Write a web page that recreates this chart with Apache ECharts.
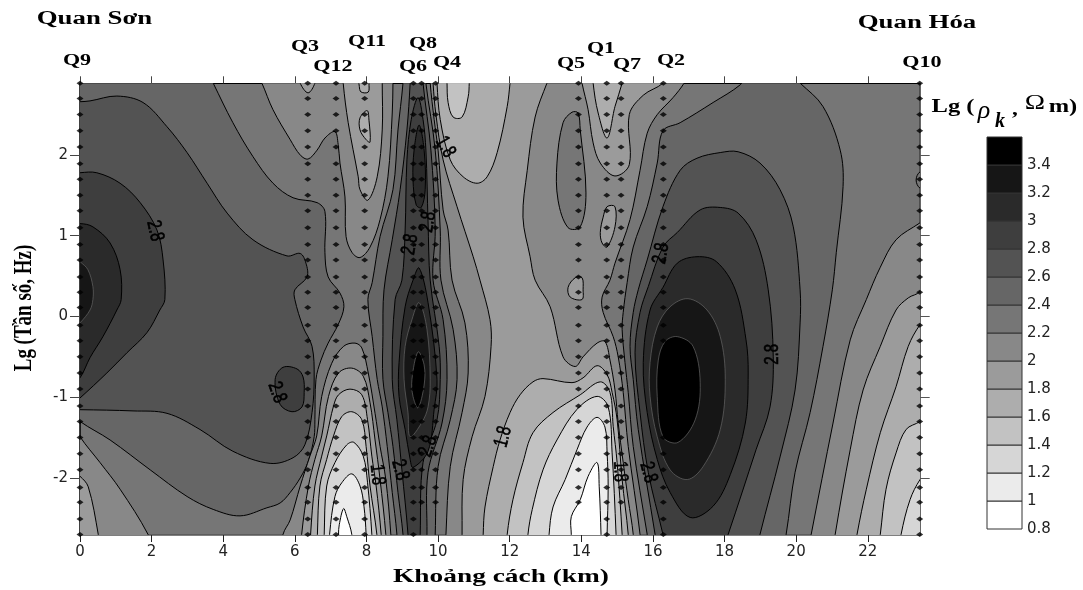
<!DOCTYPE html>
<html><head><meta charset="utf-8">
<style>html,body{margin:0;padding:0;background:#fff}#c{width:1083px;height:590px}</style>
<script src="https://cdn.jsdelivr.net/npm/echarts@6/dist/echarts.min.js"></script>
</head><body><div id="c"></div>
<script>
// colour scale: lower bound of each band and its grey
const bandLow  = [0.8,1,1.2,1.4,1.6,1.8,2,2.2,2.4,2.6,2.8,3,3.2,3.4];
const bandGrey = ['#ffffff','#ebebeb','#d6d6d6','#c2c2c2','#adadad','#9b9b9b','#888888','#767676','#666666','#535353','#3e3e3e','#2a2a2a','#161616','#000000'];
const colorbarTicks = [0.8,1,1.2,1.4,1.6,1.8,2,2.2,2.4,2.6,2.8,3,3.2,3.4];
const xTicks = [0,2,4,6,8,10,12,14,16,18,20,22];
const yTicks = [-2,-1,0,1,2];

// stations
const stationNames = ['Q9','Q3','Q12','Q11','Q6','Q8','Q4','Q5','Q1','Q7','Q2','Q10'];
const stationKm    = [0,6.36,7.15,7.95,9.31,9.54,9.93,13.92,14.71,15.11,16.29,23.45];
const stationLastLg= [-2.70,-2.70,-2.70,-2.70,-2.70,-2.30,-2.30,-2.30,-2.70,-2.30,-2.70,-2.70];
const soundingLg = [2.888,2.70,2.50,2.30,2.10,1.89,1.70,1.50,1.31,1.10,0.89,0.70,0.49,0.30,0.11,-0.11,-0.30,-0.50,-0.70,-0.90,-1.11,-1.30,-1.50,-1.70,-1.90,-2.12,-2.30,-2.51,-2.70];

// contour label readings
const labelKm   = [2.09,5.50,10.20,9.22,9.72,8.94,9.72,8.30,11.82,16.23,15.08,15.87,19.33];
const labelLg   = [1.06,-0.94,2.10,0.89,1.17,-1.90,-1.61,-1.96,-1.49,0.78,-1.92,-1.93,-0.47];
const labelText = ['2.8','2.8','1.8','2.8','2.8','2.8','2.8','1.8','1.8','2.8','1.8','2.8','2.8'];
const labelTurn = [-78,-70,-60,80,80,-75,70,-85,75,80,-88,-75,90];

// contours: [km, lg f]. High regions (value >= level)
const ge24Left = [[-0.28,3.05],[3.55,3.05],[3.72,2.89],[4.27,2.40],[4.83,1.98],[5.39,1.65],[5.95,1.47],[6.62,1.41],[6.84,1.30],[6.84,0.79],[6.93,0.49],[7.26,0.29],[7.37,0.12],[7.21,-0.10],[6.93,-0.33],[6.73,-0.54],[6.59,-0.78],[6.56,-1.28],[6.54,-1.49],[6.37,-1.80],[6.15,-2.00],[5.87,-2.18],[5.59,-2.31],[5.22,-2.37],[4.47,-2.47],[3.72,-2.39],[2.99,-2.23],[1.96,-1.90],[0.84,-1.53],[0,-1.30],[-0.5,-1.10]];
const ge26Left = [[-0.5,2.66],[0,2.66],[0.28,2.67],[1.03,2.73],[1.76,2.65],[2.43,2.35],[2.99,2.03],[3.55,1.65],[4.11,1.28],[4.83,0.95],[5.78,0.75],[6.15,0.78],[6.31,0.66],[6.34,0.49],[6.0,0.33],[6.0,0.21],[6.23,-0.13],[6.48,-0.37],[6.54,-0.75],[6.48,-1.19],[6.28,-1.59],[5.95,-1.75],[5.31,-1.82],[4.27,-1.67],[3.35,-1.40],[2.43,-1.20],[1.48,-1.17],[0,-1.155],[-0.5,-1.155]];
const ge28Left = [[-0.5,1.75],[0,1.78],[0.47,1.78],[1.12,1.65],[1.68,1.41],[2.15,1.07],[2.32,0.70],[2.37,0.21],[2.23,0.08],[1.87,-0.20],[1.31,-0.45],[0.75,-0.70],[0,-1.01],[-0.5,-1.2]];
const ge30Left = [[-0.5,1.13],[0,1.15],[0.36,1.11],[0.84,0.91],[1.12,0.58],[1.15,0.21],[1.03,0.08],[0.64,-0.25],[0.28,-0.51],[0,-0.76],[-0.5,-1.0]];
const ge32Left = [[-0.5,0.9],[0,0.68],[0.22,0.58],[0.36,0.37],[0.36,0.21],[0.28,0.08],[0,-0.08],[-0.5,-0.3]];
const ge28Blob = [[5.67,-0.63],[6.06,-0.65],[6.23,-0.75],[6.26,-0.94],[6.2,-1.12],[5.92,-1.18],[5.59,-1.09],[5.45,-0.78]];

const ge24Ridge = [[9.02,3.05],[9.02,2.89],[8.88,2.31],[8.74,1.57],[8.38,0.99],[8.16,0.42],[8.04,0.21],[8.16,-0.25],[8.30,-0.78],[8.44,-1.12],[8.58,-1.61],[8.72,-2.18],[8.85,-2.70],[8.85,-2.89],[9.92,-2.89],[9.92,-2.70],[10.0,-1.86],[10.34,-1.28],[10.53,-0.78],[10.42,-0.16],[10.08,0.45],[10.06,1.07],[9.92,2.06],[9.66,2.89],[9.66,3.05]];
const ge26Ridge = [[9.22,3.05],[9.22,2.89],[9.13,2.31],[8.94,1.57],[8.72,0.95],[8.49,0.33],[8.46,-0.25],[8.46,-0.78],[8.60,-1.19],[8.74,-1.61],[8.88,-2.18],[9.02,-2.70],[9.02,-2.89],[9.69,-2.89],[9.69,-2.70],[9.72,-1.93],[10.11,-1.32],[10.25,-0.78],[10.14,-0.04],[9.86,0.45],[9.92,1.07],[9.80,2.06],[9.58,2.89],[9.58,3.05]];
const ge28Ridge = [[9.44,2.71],[9.25,2.44],[9.13,1.94],[9.08,1.07],[8.99,0.45],[8.80,0.21],[8.72,-0.78],[8.85,-1.28],[8.99,-1.90],[9.16,-2.70],[9.16,-2.89],[9.50,-2.89],[9.50,-2.70],[9.58,-1.81],[9.97,-1.28],[10.06,-0.78],[10.03,-0.37],[9.78,0.45],[9.72,1.17],[9.66,2.06],[9.58,2.44]];
const ge30RidgeUp = [[9.47,2.37],[9.33,2.06],[9.30,1.69],[9.39,1.38],[9.53,1.35],[9.64,1.57],[9.61,2.06]];
const ge30RidgeLow = [[9.47,0.60],[9.30,0.45],[9.08,0.12],[8.91,-0.57],[8.91,-0.99],[9.08,-1.40],[9.22,-1.77],[9.30,-1.87],[9.72,-1.67],[9.89,-1.15],[9.97,-0.78],[9.72,0.17]];
const ge32Ridge = [[9.47,0.17],[9.27,-0.04],[9.08,-0.37],[9.05,-0.78],[9.16,-1.19],[9.22,-1.49],[9.55,-1.31],[9.72,-1.12],[9.78,-0.78],[9.69,-0.16]];
const ge34Ridge = [[9.44,-0.44],[9.27,-0.78],[9.30,-0.99],[9.44,-1.13],[9.61,-0.85],[9.61,-0.60]];

const ge24Right = [[18.77,3.05],[18.44,2.87],[17.68,2.65],[16.76,2.40],[16.28,2.30],[16.12,1.90],[15.84,1.36],[15.45,0.86],[15.28,0.42],[15.17,0.05],[15.14,-0.16],[15.22,-0.57],[15.31,-0.94],[15.45,-1.61],[15.84,-2.70],[15.92,-2.89],[19.61,-2.89],[19.72,-2.70],[19.97,-1.93],[20.39,-1.19],[20.75,-0.37],[21.01,0.33],[21.12,0.79],[21.31,1.61],[21.23,2.06],[20.75,2.60],[20.11,2.89],[19.69,3.05]];
const ge26Right = [[17.88,2.03],[17.23,1.96],[16.76,1.81],[16.28,1.36],[15.84,0.70],[15.59,0.33],[15.45,0.05],[15.36,-0.37],[15.45,-0.78],[15.59,-1.40],[16.06,-2.70],[16.12,-2.89],[18.91,-2.89],[18.99,-2.70],[19.55,-1.74],[19.97,-0.91],[20.11,-0.08],[20.11,0.33],[19.92,1.11],[19.55,1.57],[18.99,1.90],[18.38,2.04]];
const ge28Right = [[17.88,1.35],[17.32,1.32],[16.68,1.04],[16.28,0.86],[15.87,0.37],[15.64,0.05],[15.50,-0.45],[15.64,-1.19],[15.87,-1.93],[16.28,-2.70],[16.37,-2.89],[17.93,-2.89],[18.10,-2.70],[18.88,-1.65],[19.27,-1.12],[19.36,-0.50],[19.22,0.33],[18.88,0.95],[18.38,1.28]];
const ge30Right = [[17.23,0.74],[16.68,0.66],[16.28,0.36],[15.92,0.08],[15.73,-0.57],[15.84,-1.19],[16.12,-1.77],[16.48,-2.18],[17.04,-2.49],[17.68,-2.35],[18.16,-1.96],[18.58,-1.32],[18.66,-0.70],[18.60,-0.29],[18.30,0.33],[17.77,0.68]];
const ge32Right = [[16.98,0.22],[17.51,0.08],[17.88,-0.25],[18.02,-0.78],[17.88,-1.40],[17.40,-1.86],[16.96,-2.02],[16.48,-1.90],[16.12,-1.49],[15.92,-0.99],[15.92,-0.57],[16.12,-0.13],[16.48,0.12]];
const ge34Right = [[16.68,-0.25],[17.12,-0.37],[17.32,-0.82],[17.18,-1.28],[16.70,-1.56],[16.28,-1.49],[16.12,-0.99],[16.15,-0.54],[16.34,-0.31]];

// Low regions (value <= level)
const le22Upper = [[4.89,3.05],[5.08,2.89],[5.39,2.56],[5.87,2.19],[6.15,2.0],[6.37,1.95],[6.62,2.06],[6.84,2.21],[7.12,2.29],[7.21,2.13],[7.26,1.90],[7.40,1.48],[7.43,0.99],[7.60,0.79],[7.82,0.73],[8.10,0.86],[8.38,1.20],[8.60,1.73],[8.72,2.52],[8.74,2.89],[8.74,3.05]];
const le22Corner = [[-0.5,-1.1],[0,-1.49],[0.56,-1.81],[1.12,-2.14],[1.90,-2.70],[2.0,-2.89],[-0.5,-2.89]];
const le22Hump = [[5.67,-2.9],[5.67,-2.70],[5.87,-2.52],[6.15,-2.10],[6.42,-1.73],[6.61,-1.48],[6.75,-0.99],[7.03,-0.58],[7.36,-0.37],[7.68,-0.33],[7.87,-0.39],[8.05,-0.70],[8.24,-1.20],[8.38,-1.61],[8.54,-2.02],[8.68,-2.70],[8.68,-2.9]];
const le22Middle = [[9.78,3.05],[9.78,2.89],[9.89,2.44],[10.0,2.06],[10.14,1.32],[10.28,1.07],[10.39,0.45],[10.75,-0.08],[10.84,-0.70],[10.67,-1.19],[10.34,-1.86],[10.22,-2.70],[10.22,-2.89],[15.64,-2.89],[15.64,-2.70],[15.31,-1.61],[15.17,-0.94],[15.03,-0.50],[14.89,-0.25],[14.61,0.05],[14.58,0.24],[14.80,0.45],[14.94,0.66],[15.36,1.20],[15.64,1.81],[15.84,2.27],[16.12,2.50],[16.56,2.71],[16.87,2.89],[17.04,3.05]];
const le22Right = [[23.74,1.25],[23.46,1.16],[22.79,0.95],[22.35,0.61],[21.96,0.21],[21.51,-0.29],[21.03,-1.32],[20.42,-2.70],[20.35,-2.89],[24,-2.89]];
const ge22Q5 = [[13.74,2.53],[13.49,2.40],[13.32,1.90],[13.35,1.44],[13.63,1.10],[13.97,1.11],[14.13,1.53],[13.97,2.31],[13.91,2.52]];
const rightArc = [[23.46,1.79],[23.35,1.69],[23.46,1.59],[23.8,1.59],[23.8,1.79]];

const le20Upper = [[7.35,3.05],[7.35,2.89],[7.49,2.40],[7.77,1.73],[7.82,1.57],[8.04,1.44],[8.30,1.73],[8.44,2.31],[8.44,2.89],[8.44,3.05]];
const le20Notch = [[6.15,3.0],[6.15,2.89],[6.37,2.77],[6.56,2.89],[6.56,3.0]];
const le20Corner = [[-0.5,-1.8],[0,-1.98],[0.23,-2.11],[0.51,-2.70],[0.55,-2.89],[-0.5,-2.89]];
const le20Hump = [[6.19,-2.9],[6.19,-2.70],[6.38,-2.10],[6.56,-1.77],[6.75,-1.48],[6.94,-0.99],[7.22,-0.70],[7.59,-0.64],[7.91,-0.74],[8.10,-1.07],[8.24,-1.53],[8.38,-2.02],[8.54,-2.70],[8.54,-2.9]];
const le20Middle = [[9.86,3.05],[9.86,2.89],[9.94,2.50],[10.14,1.94],[10.53,1.36],[10.98,0.74],[11.17,0.45],[11.45,-0.04],[11.48,-0.37],[11.31,-0.99],[10.95,-1.49],[10.70,-2.02],[10.67,-2.70],[10.67,-2.89],[15.45,-2.89],[15.45,-2.70],[15.31,-2.27],[15.17,-1.81],[15.03,-1.32],[14.94,-0.91],[14.80,-0.54],[14.66,-0.31],[14.44,-0.33],[14.05,-0.50],[13.83,-0.62],[13.49,-0.50],[13.13,0.12],[12.71,0.45],[12.57,0.74],[12.37,1.23],[12.49,1.81],[12.71,2.47],[13.04,2.89],[13.2,3.05]];
const le20Q1 = [[13.97,3.05],[14.02,2.89],[14.19,2.56],[14.33,2.15],[14.53,1.90],[14.94,1.74],[15.34,1.88],[15.34,2.50],[15.73,2.74],[16.28,2.89],[16.48,3.05]];
const le20Q1Low = [[14.72,1.36],[14.94,1.36],[14.94,1.11],[14.72,0.86],[14.58,0.91],[14.53,1.04],[14.61,1.23]];
const le20Q5Low = [[13.83,0.48],[14.02,0.48],[14.05,0.33],[14.02,0.21],[13.69,0.24],[13.63,0.36]];
const le20Right = [[23.8,0.6],[23.46,0.31],[23.13,0.23],[22.79,0.08],[22.35,-0.37],[21.87,-0.91],[21.51,-1.65],[21.09,-2.70],[21.05,-2.89],[24,-2.89]];

const le18Hump = [[6.44,-2.9],[6.44,-2.70],[6.56,-2.10],[6.75,-1.73],[6.89,-1.48],[7.08,-1.11],[7.22,-0.97],[7.54,-0.90],[7.87,-0.97],[8.03,-1.28],[8.15,-1.73],[8.27,-2.10],[8.41,-2.70],[8.41,-2.9]];
const le18Upper = [[9.97,3.05],[9.97,2.89],[10.06,2.44],[10.34,1.94],[10.70,1.73],[11.09,1.65],[11.37,1.73],[11.65,2.03],[11.93,2.60],[12.01,2.89],[12.05,3.05]];
const le18Q1 = [[14.33,3.05],[14.33,2.89],[14.47,2.52],[14.72,2.21],[14.94,2.60],[15.14,2.89],[15.2,3.05]];
const le18Q11Top = [[7.8,3.0],[7.8,2.85],[7.85,2.78],[8.05,2.78],[8.07,2.89],[8.07,3.0]];
const le18Q11 = [[8.02,2.55],[7.82,2.46],[7.82,2.31],[7.99,2.19],[8.10,2.16],[8.07,2.43]];
const le18Lower = [[11.26,-2.89],[11.26,-2.70],[11.31,-2.36],[11.54,-1.86],[11.73,-1.53],[12.01,-1.19],[12.29,-0.97],[12.65,-0.81],[12.93,-0.77],[13.74,-0.82],[14.05,-0.76],[14.44,-0.61],[14.72,-0.72],[14.86,-0.94],[15.0,-1.28],[15.14,-2.02],[15.31,-2.70],[15.31,-2.89]];
const le18Right = [[24,0.2],[23.46,-0.10],[23.13,-0.37],[22.79,-0.87],[22.35,-1.44],[21.96,-2.14],[21.70,-2.70],[21.65,-2.89],[24,-2.89]];

const le16Hump = [[6.63,-2.9],[6.63,-2.70],[6.70,-2.10],[6.89,-1.77],[7.08,-1.48],[7.31,-1.24],[7.59,-1.18],[7.87,-1.28],[7.99,-1.61],[8.10,-2.10],[8.29,-2.70],[8.29,-2.9]];
const le16Top = [[10.25,3.05],[10.25,2.89],[10.28,2.65],[10.42,2.47],[10.67,2.47],[10.84,2.72],[10.87,2.89],[10.87,3.05]];
const le16Lower = [[11.93,-2.89],[11.93,-2.70],[12.09,-2.27],[12.37,-1.81],[12.65,-1.44],[13.21,-1.19],[13.97,-0.97],[14.53,-0.81],[14.80,-0.94],[14.89,-1.36],[15.0,-1.81],[15.14,-2.70],[15.14,-2.89]];
const le16Right = [[24,-1.1],[23.46,-1.30],[23.07,-1.40],[22.79,-1.69],[22.51,-2.14],[22.35,-2.70],[22.3,-2.89],[24,-2.89]];

const le14Hump = [[6.82,-2.9],[6.82,-2.70],[6.89,-2.10],[7.12,-1.81],[7.45,-1.59],[7.65,-1.56],[7.91,-1.73],[8.03,-2.06],[8.15,-2.70],[8.15,-2.9]];
const le14Lower = [[12.51,-2.89],[12.51,-2.70],[12.63,-2.39],[12.93,-1.90],[13.32,-1.53],[13.88,-1.15],[14.44,-0.99],[14.75,-1.12],[14.86,-1.69],[14.97,-2.70],[14.97,-2.89]];
const le14Right = [[24,-1.7],[23.46,-2.02],[23.18,-2.27],[22.93,-2.70],[22.9,-2.89],[24,-2.89]];

const le12Hump = [[6.97,-2.9],[6.97,-2.70],[7.12,-2.23],[7.31,-2.06],[7.59,-1.95],[7.82,-2.10],[7.93,-2.35],[7.99,-2.70],[7.99,-2.9]];
const le12Lower = [[13.10,-2.89],[13.10,-2.70],[13.21,-2.36],[13.55,-2.02],[13.88,-1.65],[14.16,-1.37],[14.44,-1.25],[14.66,-1.37],[14.72,-1.69],[14.75,-2.11],[14.72,-2.70],[14.72,-2.89]];

const le10Hump = [[7.22,-2.9],[7.22,-2.70],[7.24,-2.58],[7.36,-2.38],[7.45,-2.48],[7.59,-2.70],[7.59,-2.9]];
const le10Lower = [[13.72,-2.89],[13.72,-2.70],[13.72,-2.48],[13.97,-2.27],[14.19,-1.98],[14.44,-1.81],[14.50,-2.11],[14.55,-2.70],[14.55,-2.89]];

// paint order: [band lower bound, outline]
const regions = [
 [2.4,ge24Left],[2.4,ge24Ridge],[2.4,ge24Right],
 [2.6,ge26Left],[2.6,ge26Ridge],[2.6,ge26Right],
 [2.8,ge28Left],[2.8,ge28Blob],[2.8,ge28Ridge],[2.8,ge28Right],
 [3,ge30Left],[3,ge30RidgeUp],[3,ge30RidgeLow],[3,ge30Right],
 [3.2,ge32Left],[3.2,ge32Ridge],[3.2,ge32Right],
 [3.4,ge34Ridge],[3.4,ge34Right],
 [2,le22Upper],[2,le22Corner],[2,le22Hump],[2,le22Middle],[2,le22Right],
 [2.2,ge22Q5],[2.2,rightArc],
 [1.8,le20Upper],[1.8,le20Notch],[1.8,le20Corner],[1.8,le20Hump],[1.8,le20Middle],[1.8,le20Q1],[1.8,le20Q1Low],[1.8,le20Q5Low],[1.8,le20Right],
 [1.6,le18Hump],[1.6,le18Upper],[1.6,le18Q1],[1.6,le18Q11Top],[1.6,le18Q11],[1.6,le18Lower],[1.6,le18Right],
 [1.4,le16Hump],[1.4,le16Top],[1.4,le16Lower],[1.4,le16Right],
 [1.2,le14Hump],[1.2,le14Lower],[1.2,le14Right],
 [1,le12Hump],[1,le12Lower],
 [0.8,le10Hump],[0.8,le10Lower]
];

const greyOf = b => bandGrey[bandLow.indexOf(b)];
const stationDots = [];
stationKm.forEach((km,i)=>soundingLg.forEach(lg=>{ if(lg>=stationLastLg[i]) stationDots.push([km,lg]); }));

const SERIF = '"Liberation Serif"';
const headText = (text,x,y,size,sx,extra) => Object.assign({type:'text',x,y,scaleX:sx,silent:true,
  style:{text,font:`bold ${size}px ${SERIF}`,fill:'#000',align:'center',verticalAlign:'middle'}},extra||{});
const stationLabelPx = [[77,61],[305,47],[333,67],[367,42],[413,67],[423,44],[447,63],[571,64],[601,49],[627,65],[671,61],[922,63]];

const chart = echarts.init(document.getElementById('c'),null,{renderer:'canvas'});
const tickFont = {fontFamily:'"DejaVu Sans"',fontSize:15,color:'#222'};
chart.setOption({
  animation:false,
  backgroundColor:'#fff',
  grid:[
    {left:80,top:83.3,width:839.7,height:451.7,show:true,backgroundColor:'#767676',borderWidth:0},
    {left:987,top:137,width:35,height:392,show:false}
  ],
  xAxis:[
    {type:'value',gridIndex:0,position:'bottom',min:0,max:23.45,axisLine:{onZero:false,lineStyle:{color:'#555',width:1.5}},
     axisTick:{customValues:xTicks,length:7,lineStyle:{color:'#222'}},axisLabel:{customValues:xTicks,margin:10,...tickFont},splitLine:{show:false}},
    {type:'value',gridIndex:0,position:'top',min:0,max:23.45,axisLine:{onZero:false,lineStyle:{color:'#000',width:1}},
     axisTick:{customValues:xTicks,length:7,lineStyle:{color:'#444'}},axisLabel:{show:false},splitLine:{show:false}},
    {type:'value',gridIndex:1,min:0,max:1,show:false}
  ],
  yAxis:[
    {type:'value',gridIndex:0,position:'left',min:-2.707,max:2.888,axisLine:{onZero:false,lineStyle:{color:'#000',width:1.5}},
     axisTick:{customValues:yTicks,length:10,lineStyle:{color:'#444'}},axisLabel:{customValues:yTicks,margin:12,...tickFont},splitLine:{show:false}},
    {type:'value',gridIndex:0,position:'right',min:-2.707,max:2.888,axisLine:{onZero:false,lineStyle:{color:'#333',width:1.5}},
     axisTick:{customValues:yTicks,length:10,lineStyle:{color:'#555'}},axisLabel:{show:false},splitLine:{show:false}},
    {type:'value',gridIndex:1,position:'right',min:0.8,max:3.6,axisLine:{show:false},axisTick:{show:false},
     axisLabel:{customValues:colorbarTicks,margin:5,...tickFont},splitLine:{show:false}}
  ],
  series:[
    {type:'custom',name:'contours',xAxisIndex:0,yAxisIndex:0,clip:true,silent:true,z:2,
     data:regions.map((r,i)=>[i]),
     renderItem:(p,api)=>{
       const r=regions[p.dataIndex], dark=r[0]>=3.2;
       return {type:'polygon',shape:{points:r[1].map(q=>api.coord(q)),smooth:0.35},
         style:{fill:greyOf(r[0]),stroke:dark?'#666':'#000',lineWidth:dark?0.7:1}};
     }},
    {type:'custom',name:'contourLabels',xAxisIndex:0,yAxisIndex:0,silent:true,z:4,
     data:labelKm.map((k,i)=>[k,labelLg[i]]),
     renderItem:(p,api)=>{
       const c=api.coord([api.value(0),api.value(1)]), i=p.dataIndex;
       return {type:'text',x:c[0],y:c[1],rotation:labelTurn[i]*Math.PI/180,scaleX:0.75,
         style:{text:labelText[i],font:'20px "Liberation Sans"',fill:'#000',stroke:'#000',lineWidth:0.6,align:'center',verticalAlign:'middle'}};
     }},
    {type:'scatter',name:'soundings',xAxisIndex:0,yAxisIndex:0,symbol:'diamond',symbolSize:[7,5],silent:true,z:5,clip:false,
     itemStyle:{color:'#000'},data:stationDots},
    {type:'custom',name:'colorbar',xAxisIndex:2,yAxisIndex:2,silent:true,z:2,
     data:bandLow.map(b=>[0,b]),
     renderItem:(p,api)=>{
       const lo=api.value(1), a=api.coord([0,lo+0.2]), b=api.coord([1,lo]);
       return {type:'rect',shape:{x:a[0],y:a[1],width:b[0]-a[0],height:b[1]-a[1]},
         style:{fill:greyOf(lo),stroke:'#333',lineWidth:1}};
     }}
  ],
  graphic:{elements:[
    headText('Quan Sơn',94.5,19,18,1.49),
    headText('Quan Hóa',917,23,18,1.49),
    headText('Khoảng cách (km)',501,577,18,1.52),
    headText('Lg (Tần số, Hz)',24,308,26,0.73,{rotation:Math.PI/2}),
    ...stationNames.map((n,i)=>headText(n,stationLabelPx[i][0],stationLabelPx[i][1],16,1.38)),
    headText('Lg (',953,107,18,1.36),
    {type:'text',x:984,y:111,silent:true,style:{text:'ρ',font:`italic 26px ${SERIF}`,fill:'#000',align:'center',verticalAlign:'middle'}},
    {type:'text',x:1000,y:122,silent:true,style:{text:'k',font:`italic bold 20px ${SERIF}`,fill:'#000',align:'center',verticalAlign:'middle'}},
    headText(',',1015,110,18,1.3),
    {type:'text',x:1035,y:103,scaleX:1.3,silent:true,style:{text:'Ω',font:`21px ${SERIF}`,fill:'#000',align:'center',verticalAlign:'middle'}},
    headText('m)',1063,107,18,1.36)
  ]}
});
</script></body></html>
